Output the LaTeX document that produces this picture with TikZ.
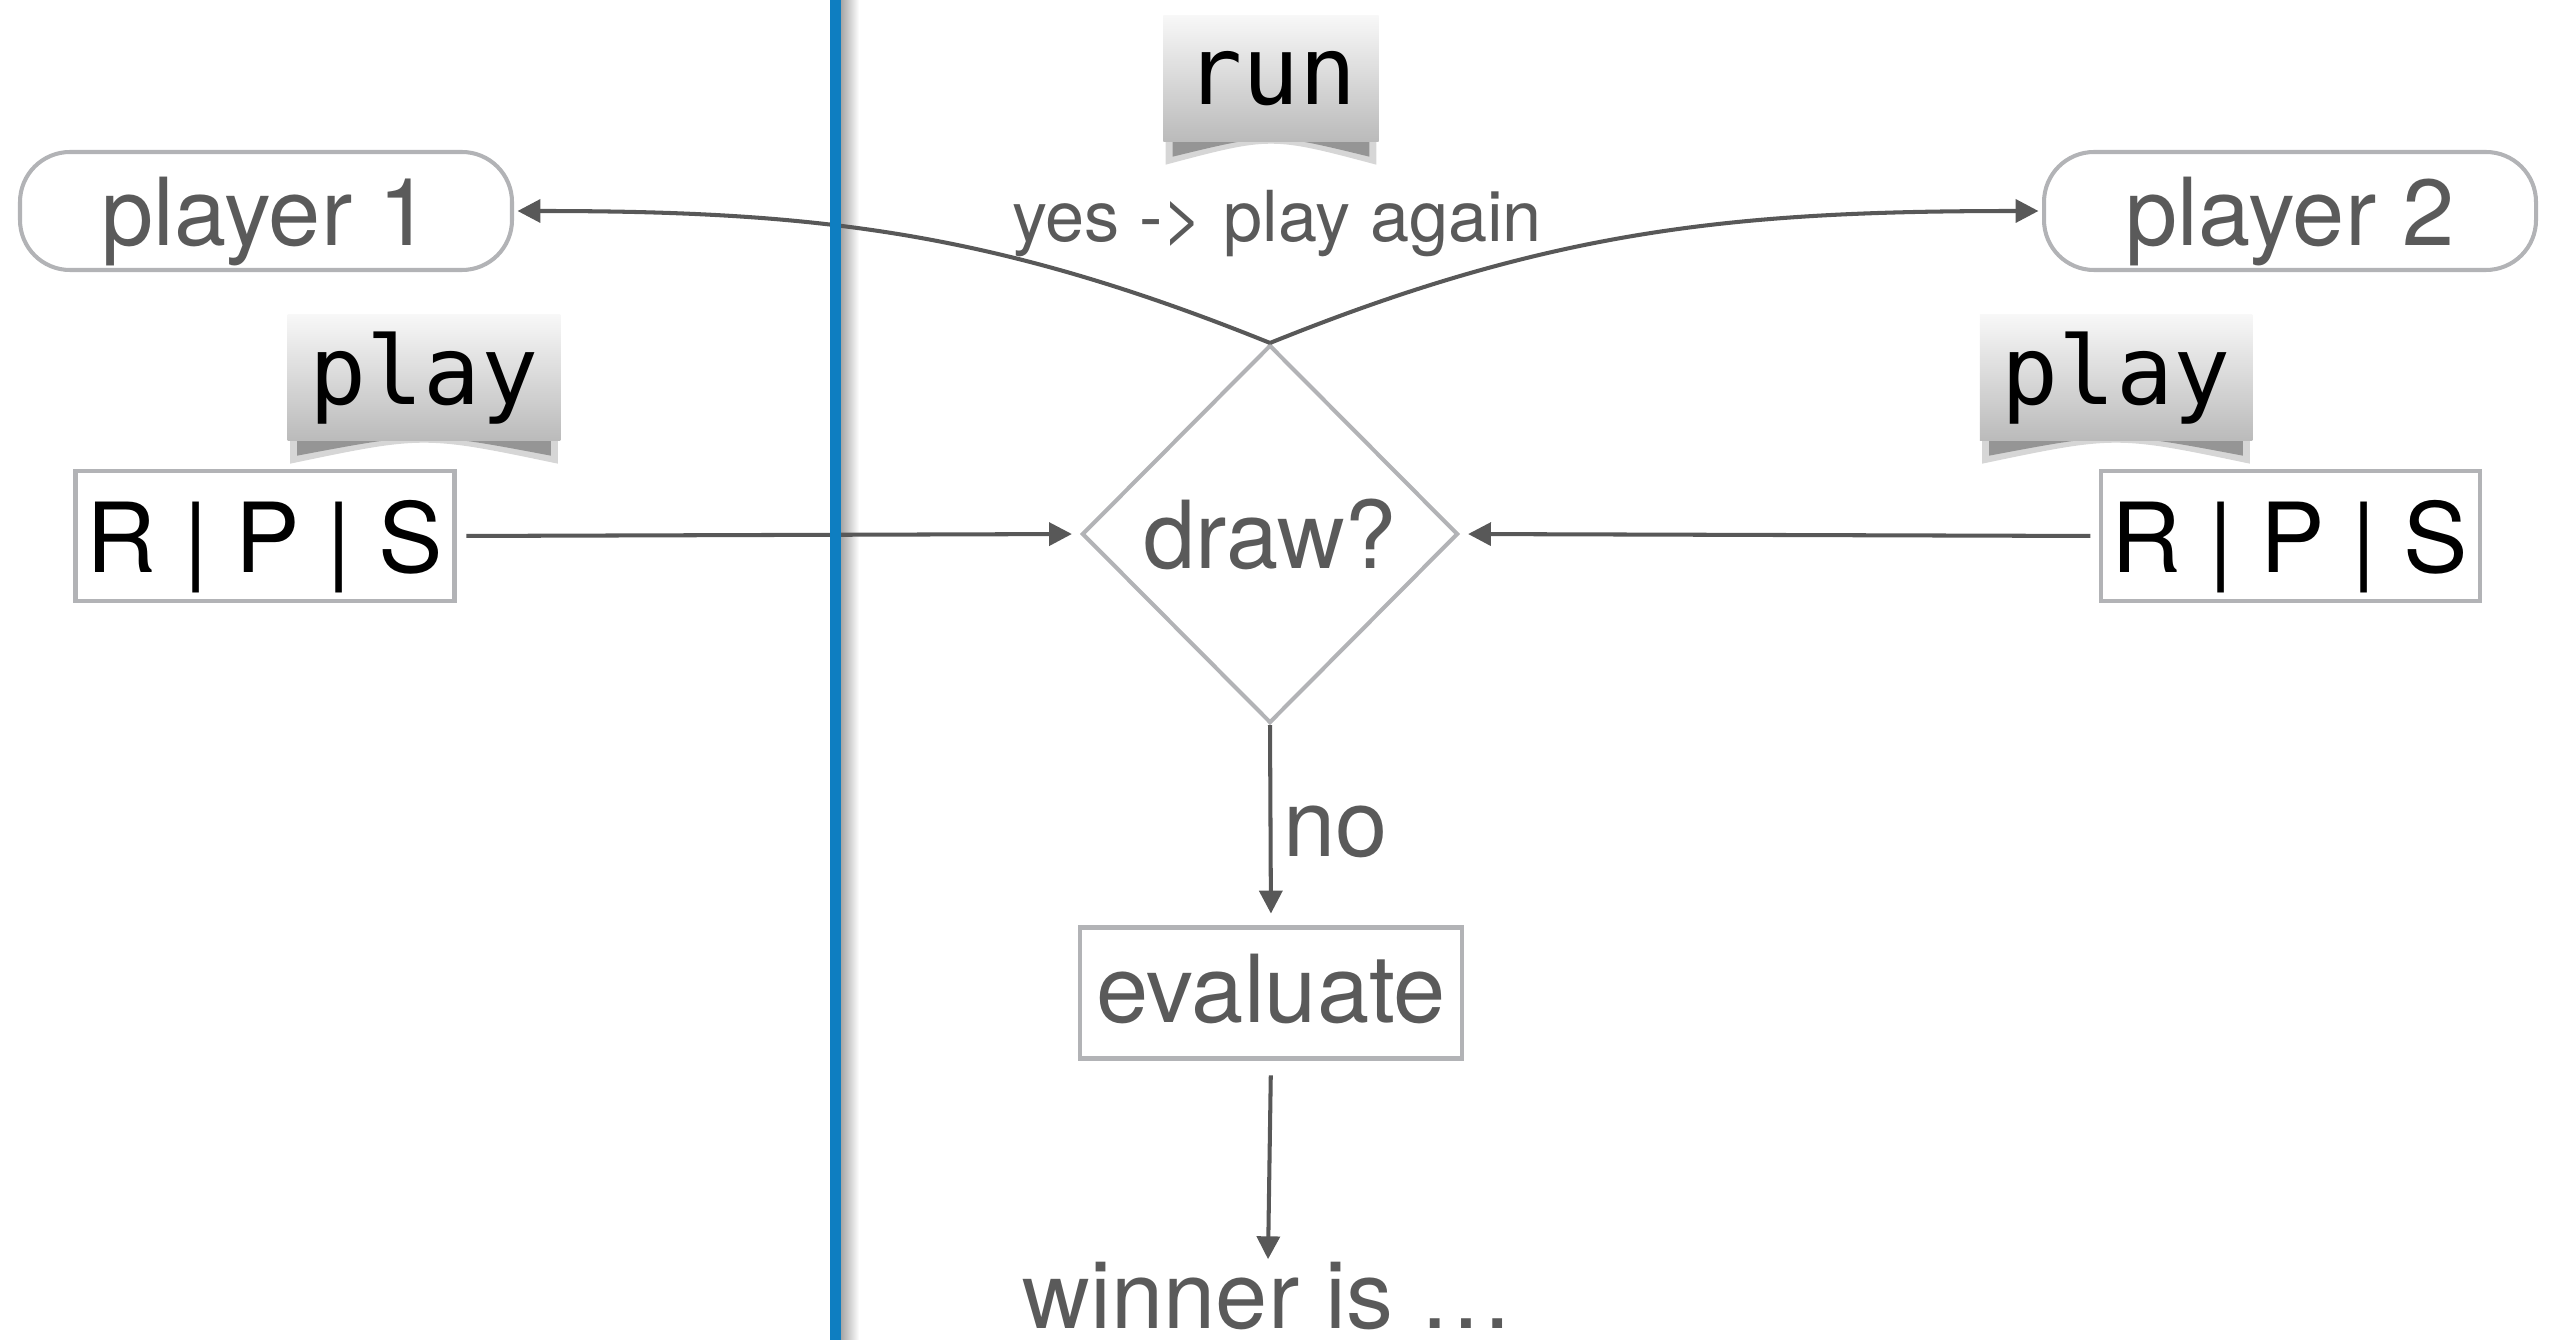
\documentclass[tikz,border=0pt]{standalone}
\usepackage{fontspec}
\setmainfont{TeX Gyre Heros}
\newfontfamily\codefont{DejaVu Sans Mono}
\usepackage{xcolor}
\definecolor{rpsblue}{RGB}{14,126,193}
\definecolor{boxgray}{RGB}{178,179,182}
\definecolor{txtgray}{RGB}{90,90,90}
\definecolor{arrgray}{RGB}{88,88,88}
\usepackage{tikz}
\usetikzlibrary{arrows.meta, positioning, shapes.geometric, calc, backgrounds}

% curled shadow under a command label
\newcommand{\curlshadow}[1]{%
  \fill[black, opacity=0.16] ([xshift=0.3mm,yshift=1mm]#1.south west) -- ([xshift=0.3mm,yshift=-2.2mm]#1.south west)
    .. controls ($(#1.south)+(0,0.6mm)$) .. ([xshift=-0.3mm,yshift=-2.2mm]#1.south east)
    -- ([xshift=-0.3mm,yshift=1mm]#1.south east) -- cycle;
  \fill[black, opacity=0.3] ([xshift=1mm,yshift=1mm]#1.south west) -- ([xshift=1mm,yshift=-1.4mm]#1.south west)
    .. controls ($(#1.south)+(0,1mm)$) .. ([xshift=-1mm,yshift=-1.4mm]#1.south east)
    -- ([xshift=-1mm,yshift=1mm]#1.south east) -- cycle;
}

\begin{document}
\begin{tikzpicture}[
  txt/.style={text=txtgray, font=\fontsize{26.7}{32}\selectfont, text depth=0pt},
  player/.style={txt, draw=boxgray, line width=1.15pt, rounded corners=0.5cm,
                 minimum width=4.92cm, minimum height=1.18cm, inner sep=0pt},
  choice/.style={draw=boxgray, line width=1.15pt, minimum width=3.79cm, minimum height=1.3cm,
                 inner sep=0pt, text depth=0pt, font=\fontsize{27.5}{32}\selectfont},
  decision/.style={txt, diamond, draw=boxgray, line width=1.15pt,
                   minimum width=3.76cm, minimum height=3.78cm, inner sep=0pt},
  stepbox/.style={txt, draw=boxgray, line width=1.15pt, minimum width=3.82cm,
                  minimum height=1.31cm, inner sep=0pt, text depth=0.25em},
  cmd/.style={top color=gray!6, bottom color=black!27, minimum height=1.26cm,
              inner xsep=0.22cm, inner ysep=0pt, font=\codefont\fontsize{27}{30}\selectfont},
  arr/.style={-{Triangle[length=6.5pt, width=6.5pt]}, line width=1.15pt, draw=arrgray}
]
\useasboundingbox (0,0) rectangle (25.63,-13.40);

% players and their moves
\node[player] (p1) at (2.66,-2.11) {player 1};
\node[player] (p2) at (22.90,-2.11) {player 2};
\node[cmd] (play1) at (4.24,-3.78) {play};
\node[cmd] (play2) at (21.16,-3.78) {play};
\node[choice] (rps1) at (2.65,-5.36) {R | P | S};
\node[choice] (rps2) at (22.90,-5.36) {R | P | S};

% referee
\node[cmd] (run) at (12.71,-0.79) {run};
\node[decision] (isdraw) at (12.70,-5.34) {draw?};
\node[stepbox] (eval) at (12.71,-9.93) {evaluate};
\node[txt, anchor=base, inner sep=0pt] (winner) at (12.68,-13.28) {winner is …};
\node[txt, font=\fontsize{20}{24}\selectfont, anchor=base, inner sep=0pt] (again) at (12.77,-2.42) {yes -> play again};

\draw[arr, shorten <=2.8pt, shorten >=2.3pt] (rps1.east) -- (isdraw.west);
\draw[arr, shorten <=2.3pt, shorten >=2.3pt] (rps2.west) -- (isdraw.east);
\draw[arr, shorten >=3.4pt] (isdraw.south) -- node[txt, right, inner sep=3pt, pos=0.53] {no} (eval.north);
\draw[arr, shorten <=4.2pt, shorten >=0.5pt] (eval.south) -- (winner.north);
\draw[arr, shorten >=1pt] (isdraw.north) to[out=158, in=0] (p1.east);
\draw[arr, shorten >=1pt] (isdraw.north) to[out=22, in=180] (p2.west);

% shadows
\begin{scope}[on background layer]
  \shade[left color=gray!70, right color=white] (8.41,0) rectangle (8.59,-13.40);
  \curlshadow{run}
  \curlshadow{play1}
  \curlshadow{play2}
\end{scope}

% divider
\fill[rpsblue] (8.30,0) rectangle (8.41,-13.40);
\end{tikzpicture}
\end{document}
